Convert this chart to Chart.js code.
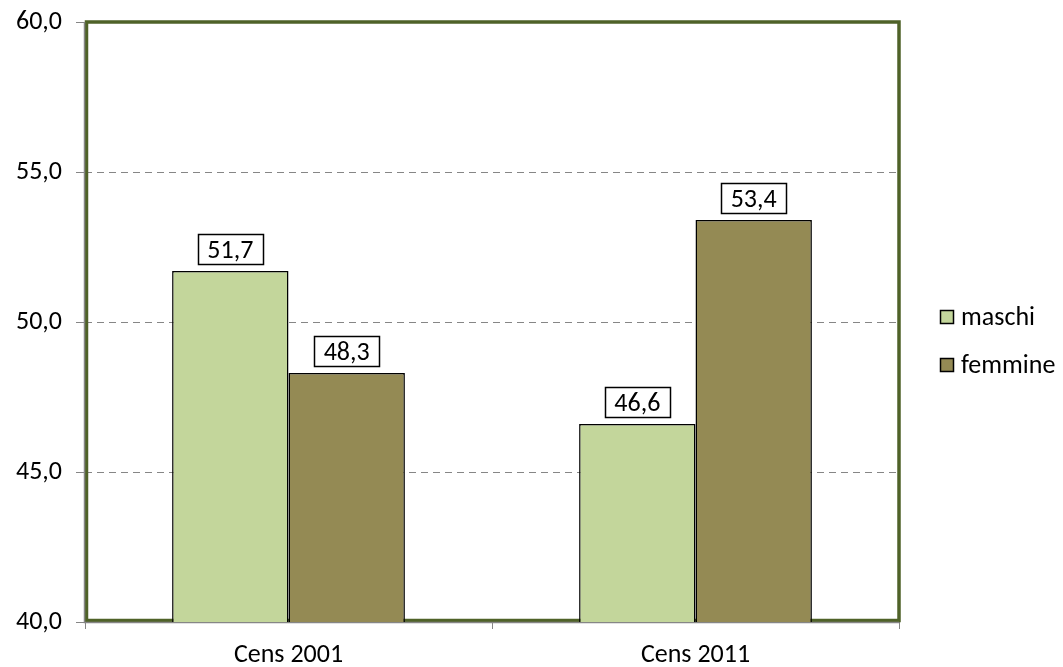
<!DOCTYPE html>
<html>
<head>
<meta charset="utf-8">
<script src="https://cdn.jsdelivr.net/npm/chart.js@4.4.1/dist/chart.umd.min.js"></script>
<style>
  html, body { margin: 0; padding: 0; background: #fff; }
  #wrap { width: 1063px; height: 667px; }
</style>
</head>
<body>
<div id="wrap"><canvas id="chart" width="1063" height="667"></canvas></div>
<script>
const categories = ["Cens 2001", "Cens 2011"];
const maschi = [51.7, 46.6];
const femmine = [48.3, 53.4];
const seriesNames = ["maschi", "femmine"];
const yMin = 40, yMax = 60, yStep = 5;

const FONT = "Calibri, Carlito, Lato, 'Open Sans', sans-serif";
const GREY = "#868686";
const FRAME = "#4F6228";

const fmt = v => v.toFixed(1).replace(".", ",");

// olive frame around the plot area, under the bars
const plotFrame = {
  id: "plotFrame",
  beforeDatasetsDraw(chart) {
    const { ctx, chartArea: a } = chart;
    ctx.save();
    ctx.strokeStyle = FRAME;
    ctx.lineWidth = 3.5;
    ctx.strokeRect(a.left + 1.5, a.top, a.right - a.left - 1.5, a.bottom - a.top - 1.5);
    ctx.strokeStyle = GREY;
    ctx.lineWidth = 1.5;
    ctx.beginPath();
    ctx.moveTo(a.left - 0.5, a.top);
    ctx.lineTo(a.left - 0.5, a.bottom + 0.5);
    ctx.lineTo(a.right, a.bottom + 0.5);
    ctx.stroke();
    ctx.restore();
  }
};

// boxed value labels above each bar
const valueBoxes = {
  id: "valueBoxes",
  afterDatasetsDraw(chart) {
    const { ctx } = chart;
    ctx.save();
    ctx.font = "26px " + FONT;
    ctx.textAlign = "center";
    ctx.textBaseline = "middle";
    chart.data.datasets.forEach((ds, i) => {
      chart.getDatasetMeta(i).data.forEach((bar, j) => {
        const txt = fmt(ds.data[j]);
        const w = Math.round(ctx.measureText(txt).width + 19);
        const h = 30;
        const x = Math.round(bar.x - w / 2);
        const y = Math.round(bar.y - 7 - h);
        ctx.fillStyle = "#fff";
        ctx.fillRect(x, y, w, h);
        ctx.strokeStyle = "#000";
        ctx.lineWidth = 1.5;
        ctx.strokeRect(x + 0.5, y + 0.5, w, h);
        ctx.fillStyle = "#000";
        ctx.fillText(txt, bar.x, y + h / 2 + 2);
      });
    });
    ctx.restore();
  }
};

// legend at the right side
const sideLegend = {
  id: "sideLegend",
  afterDraw(chart) {
    const { ctx } = chart;
    ctx.save();
    ctx.font = "26px " + FONT;
    ctx.textBaseline = "middle";
    chart.data.datasets.forEach((ds, i) => {
      const cy = 317 + i * 48;
      ctx.fillStyle = ds.backgroundColor;
      ctx.fillRect(940, cy - 7, 14, 14);
      ctx.strokeStyle = "#000";
      ctx.lineWidth = 1.5;
      ctx.strokeRect(940.5, cy - 6.5, 13, 13);
      ctx.fillStyle = "#000";
      ctx.fillText(ds.label, 961, cy + 1);
    });
    ctx.restore();
  }
};

new Chart(document.getElementById("chart"), {
  type: "bar",
  data: {
    labels: categories,
    datasets: [
      { label: seriesNames[0], data: maschi, backgroundColor: "#C3D69B", borderColor: "#000", borderWidth: 1.5 },
      { label: seriesNames[1], data: femmine, backgroundColor: "#948A54", borderColor: "#000", borderWidth: 1.5 }
    ]
  },
  options: {
    responsive: false,
    animation: false,
    layout: { padding: { left: 0, top: 22, right: 164, bottom: 0 } },
    datasets: { bar: { categoryPercentage: 0.572, barPercentage: 1.0 } },
    plugins: { legend: { display: false }, tooltip: { enabled: false } },
    scales: {
      x: {
        grid: { drawOnChartArea: false, drawTicks: true, tickLength: 7, color: GREY, offset: true },
        border: { display: false },
        ticks: { color: "#000", font: { family: FONT, size: 26 }, padding: 11 },
        afterFit(scale) { scale.height = 45; scale.paddingLeft = 0; scale.paddingRight = 0; }
      },
      y: {
        min: yMin,
        max: yMax,
        grid: { color: GREY, lineWidth: 1, tickLength: 9, tickColor: GREY, tickBorderDash: [] },
        border: { display: false, dash: [7, 5] },
        ticks: {
          stepSize: yStep,
          color: "#000",
          font: { family: FONT, size: 26 },
          padding: 14,
          callback: v => fmt(v)
        },
        afterFit(scale) { scale.width = 85; scale.paddingTop = 0; scale.paddingBottom = 0; }
      }
    }
  },
  plugins: [plotFrame, valueBoxes, sideLegend]
});
</script>
</body>
</html>
